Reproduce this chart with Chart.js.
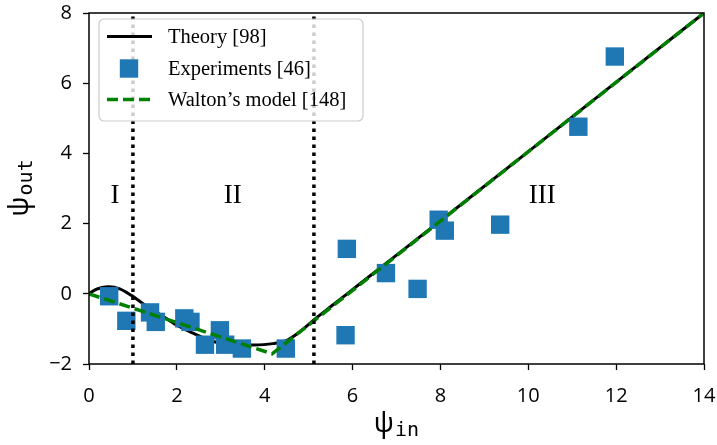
<!DOCTYPE html>
<html>
<head>
<meta charset="utf-8">
<script src="https://cdn.jsdelivr.net/npm/chart.js@4/dist/chart.umd.min.js"></script>
<style>
  html, body { margin: 0; padding: 0; background: #fff; }
  #wrap { width: 717px; height: 445px; }
</style>
</head>
<body>
<div id="wrap"><canvas id="chart" width="717" height="445"></canvas></div>
<script>
// theory curve [98]
const theoryX = [0, 0.15, 0.3, 0.45, 0.7, 0.97, 1.23, 1.61, 1.99, 2.37, 2.83, 3.28, 3.73, 4.19, 4.53, 4.8, 5.14, 5.55, 6.16, 8, 10, 12, 14];
const theoryY = [0, 0.12, 0.18, 0.2, 0.14, -0.05, -0.28, -0.58, -0.89, -1.12, -1.36, -1.43, -1.46, -1.42, -1.31, -1.08, -0.72, -0.32, 0.28, 2.08, 4.05, 6.03, 8.0];

// measurements [46]
const expX = [0.46, 0.85, 1.39, 1.52, 2.17, 2.31, 2.64, 2.98, 3.1, 3.48, 4.48, 5.84, 5.87, 6.76, 7.48, 7.96, 8.1, 9.36, 11.14, 11.97];
const expY = [-0.07, -0.77, -0.53, -0.8, -0.7, -0.8, -1.45, -1.04, -1.45, -1.56, -1.56, -1.18, 1.28, 0.59, 0.14, 2.11, 1.8, 1.97, 4.76, 6.76];

// Walton's model [148]
const waltonX = [0, 4.17, 14];
const waltonY = [0, -1.71, 8];

// regime boundaries and labels
const boundaryX = [1.0, 5.12];
const regionX = [0.59, 3.27, 10.32];
const regionNames = ['I', 'II', 'III'];
const regionY = 2.8;

const xTicks = [0, 2, 4, 6, 8, 10, 12, 14];
const yTicks = [-2, 0, 2, 4, 6, 8];

const pts = (xs, ys) => xs.map((x, i) => ({ x: x, y: ys[i] }));

const BLUE = '#1f77b4';
const GREEN = '#008000';
const SERIF = '"Liberation Serif", "DejaVu Serif", serif';

const datasets = [];
boundaryX.forEach(function (bx) {
  datasets.push({
    type: 'line',
    data: [{ x: bx, y: -2 }, { x: bx, y: 8 }],
    borderColor: '#000',
    borderWidth: 3.5,
    borderDash: [3.5, 4.5],
    pointRadius: 0,
    order: 0
  });
});
datasets.push({
  type: 'line',
  label: "Walton’s model [148]",
  data: pts(waltonX, waltonY),
  borderColor: GREEN,
  borderWidth: 3.5,
  borderDash: [11, 5],
  pointRadius: 0,
  order: 1
});
datasets.push({
  type: 'scatter',
  label: 'Experiments [46]',
  data: pts(expX, expY),
  backgroundColor: BLUE,
  borderWidth: 0,
  pointStyle: 'rect',
  pointRadius: 13,
  order: 2
});
datasets.push({
  type: 'line',
  label: 'Theory [98]',
  data: pts(theoryX, theoryY),
  borderColor: '#000',
  borderWidth: 3,
  cubicInterpolationMode: 'monotone',
  pointRadius: 0,
  order: 3
});

// frame, region numerals, axis titles with subscripts, and the boxed legend
const decorations = {
  id: 'decorations',
  afterDatasetsDraw(chart) {
    const { ctx, chartArea: a, scales } = chart;
    ctx.save();
    ctx.fillStyle = '#000';
    ctx.font = '27px ' + SERIF;
    ctx.textAlign = 'center';
    ctx.textBaseline = 'middle';
    regionNames.forEach(function (name, i) {
      ctx.fillText(name, scales.x.getPixelForValue(regionX[i]), scales.y.getPixelForValue(regionY));
    });

    ctx.strokeStyle = '#000';
    ctx.lineWidth = 1.5;
    ctx.strokeRect(a.left, a.top, a.right - a.left, a.bottom - a.top);
    ctx.restore();
  },
  afterDraw(chart) {
    const { ctx, chartArea: a } = chart;
    ctx.save();

    // axis titles
    const drawPsi = function (sub) {
      ctx.font = '27px "Noto Sans", sans-serif';
      const w1 = ctx.measureText('ψ').width;
      ctx.font = '20px "DejaVu Sans Mono", monospace';
      const w2 = ctx.measureText(sub).width;
      const start = -(w1 + w2 + 1) / 2;
      ctx.textAlign = 'left';
      ctx.textBaseline = 'alphabetic';
      ctx.font = '27px "Noto Sans", sans-serif';
      ctx.fillText('ψ', start, 6);
      ctx.font = '20px "DejaVu Sans Mono", monospace';
      ctx.fillText(sub, start + w1 + 1, 10);
    };
    ctx.fillStyle = '#000';
    ctx.save();
    ctx.translate((a.left + a.right) / 2, 426);
    drawPsi('in');
    ctx.restore();
    ctx.save();
    ctx.translate(22, 188);
    ctx.rotate(-Math.PI / 2);
    drawPsi('out');
    ctx.restore();

    // legend
    const bx = 99, by = 19, bw = 264, bh = 102;
    ctx.beginPath();
    ctx.roundRect(bx, by, bw, bh, 5);
    ctx.fillStyle = 'rgba(255,255,255,0.8)';
    ctx.fill();
    ctx.strokeStyle = '#cccccc';
    ctx.lineWidth = 1.2;
    ctx.stroke();

    const rows = [36.5, 68.5, 99.5];
    ctx.lineWidth = 3;
    ctx.strokeStyle = '#000';
    ctx.setLineDash([]);
    ctx.beginPath();
    ctx.moveTo(107, rows[0]);
    ctx.lineTo(152, rows[0]);
    ctx.stroke();

    ctx.fillStyle = BLUE;
    ctx.fillRect(129 - 9.2, rows[1] - 9.2, 18.4, 18.4);

    ctx.strokeStyle = GREEN;
    ctx.lineWidth = 3.5;
    ctx.setLineDash([11, 5]);
    ctx.beginPath();
    ctx.moveTo(107, rows[2]);
    ctx.lineTo(152, rows[2]);
    ctx.stroke();
    ctx.setLineDash([]);

    ctx.fillStyle = '#000';
    ctx.font = '20.5px ' + SERIF;
    ctx.textAlign = 'left';
    ctx.textBaseline = 'middle';
    ctx.fillText('Theory [98]', 168, rows[0] + 1);
    ctx.fillText('Experiments [46]', 168, rows[1] + 1);
    ctx.fillText('Walton’s model [148]', 168, rows[2] + 1);
    ctx.restore();
  }
};

const tickFont = { family: '"Open Sans", "DejaVu Sans", sans-serif', size: 20 };

new Chart(document.getElementById('chart').getContext('2d'), {
  type: 'scatter',
  data: { datasets: datasets },
  options: {
    responsive: false,
    animation: false,
    events: [],
    layout: { padding: { left: 0, right: 12, top: 8, bottom: 0 } },
    plugins: { legend: { display: false }, tooltip: { enabled: false } },
    scales: {
      x: {
        type: 'linear',
        min: 0,
        max: 14,
        afterFit: function (s) { s.height = 81; s.paddingLeft = 0; s.paddingRight = 0; },
        afterBuildTicks: function (s) { s.ticks = xTicks.map(v => ({ value: v })); },
        border: { display: false },
        grid: { drawOnChartArea: false, drawTicks: true, tickLength: 6, tickWidth: 1.3, tickColor: '#000' },
        ticks: { color: '#000', font: tickFont, padding: 14, maxRotation: 0 }
      },
      y: {
        type: 'linear',
        min: -2,
        max: 8,
        afterFit: function (s) { s.width = 89; s.paddingTop = 0; s.paddingBottom = 0; },
        afterBuildTicks: function (s) { s.ticks = yTicks.map(v => ({ value: v })); },
        border: { display: false },
        grid: { drawOnChartArea: false, drawTicks: true, tickLength: 6, tickWidth: 1.3, tickColor: '#000' },
        ticks: {
          color: '#000',
          font: tickFont,
          padding: 11,
          callback: v => String(v).replace('-', '\u2212')
        }
      }
    }
  },
  plugins: [decorations]
});
</script>
</body>
</html>
